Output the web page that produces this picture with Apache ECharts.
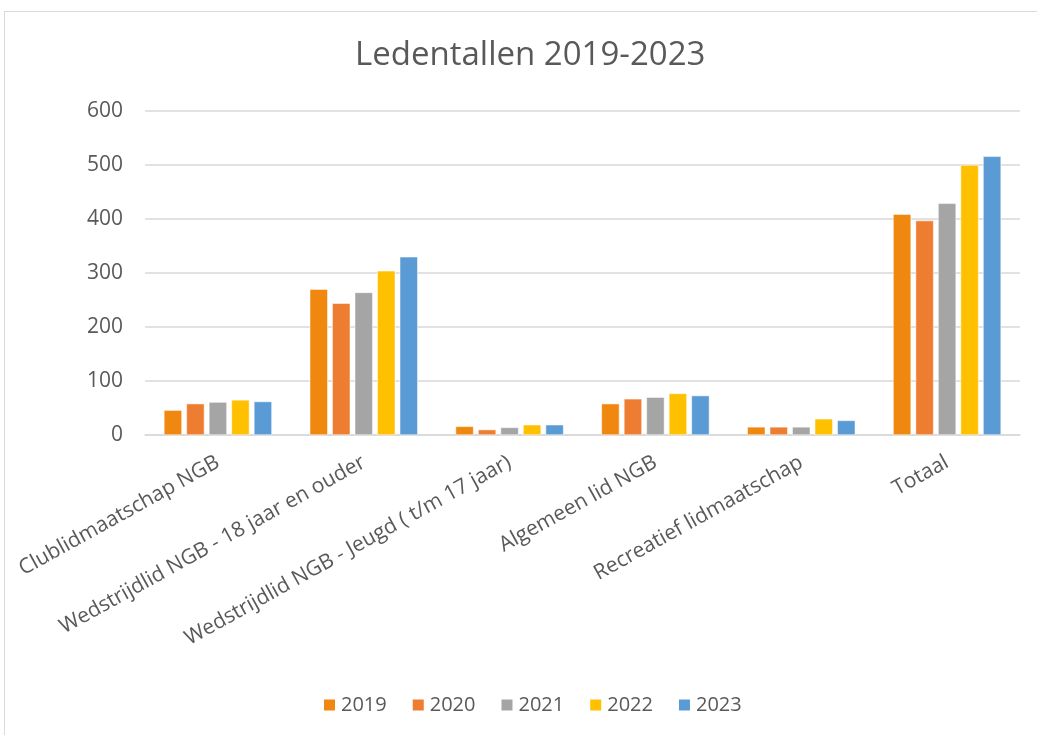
<!DOCTYPE html>
<html>
<head>
<meta charset="utf-8">
<script src="https://cdn.jsdelivr.net/npm/echarts@6/dist/echarts.min.js"></script>
<style>
  body { margin: 0; background: #fff; }
  #frame {
    position: absolute; left: 4px; top: 11px;
    width: 1100px; height: 800px;
    border-left: 1px solid #d9d9d9; border-top: 1px solid #d9d9d9;
  }
  #chart { position: absolute; left: 0; top: 0; width: 1037px; height: 735px; }
</style>
</head>
<body>
<div id="frame"></div>
<div id="chart"></div>
<script>
const categories = [
  'Clublidmaatschap NGB',
  'Wedstrijdlid NGB - 18 jaar en ouder',
  'Wedstrijdlid NGB - Jeugd ( t/m 17 jaar)',
  'Algemeen lid NGB',
  'Recreatief lidmaatschap',
  'Totaal'
];
const years = ['2019', '2020', '2021', '2022', '2023'];
const v2019 = [46, 270, 16, 58, 15, 409];
const v2020 = [58, 244, 10, 67, 15, 397];
const v2021 = [61, 264, 14, 70, 15, 429];
const v2022 = [65, 304, 19, 77, 30, 500];
const v2023 = [62, 330, 19, 73, 27, 516];
const seriesValues = [v2019, v2020, v2021, v2022, v2023];
const colors = ['#F0870F', '#ED7D31', '#A5A5A5', '#FFC000', '#5B9BD5'];

const chart = echarts.init(document.getElementById('chart'));
const font = '"Open Sans", "Noto Sans", sans-serif';

chart.setOption({
  animation: false,
  title: {
    text: 'Ledentallen 2019-2023',
    left: 350,
    top: 34,
    textStyle: { color: '#595959', fontSize: 33, fontWeight: 'normal', fontFamily: font }
  },
  legend: {
    bottom: 15,
    left: 317,
    itemWidth: 13,
    itemHeight: 13,
    itemGap: 24,
    icon: 'rect',
    textStyle: { color: '#595959', fontSize: 20, fontFamily: font },
    data: years
  },
  grid: { left: 145, right: 17, top: 111, bottom: 300, containLabel: false },
  xAxis: {
    type: 'category',
    data: categories,
    axisLine: { lineStyle: { color: '#d9d9d9', width: 1.5 } },
    axisTick: { show: false },
    axisLabel: {
      interval: 0,
      rotate: 29,
      margin: 26,
      color: '#595959',
      fontSize: 21,
      fontFamily: font
    }
  },
  yAxis: {
    type: 'value',
    min: 0,
    max: 600,
    interval: 100,
    axisLine: { show: false },
    axisTick: { show: false },
    splitLine: { lineStyle: { color: '#d9d9d9', width: 1.5 } },
    axisLabel: { color: '#595959', fontSize: 21, margin: 22, fontFamily: font }
  },
  series: years.map((y, i) => ({
    name: y,
    type: 'bar',
    data: seriesValues[i],
    barWidth: 18,
    barGap: '25%',
    itemStyle: { color: colors[i], borderColor: '#fff', borderWidth: 0.5 }
  }))
});
</script>
</body>
</html>
